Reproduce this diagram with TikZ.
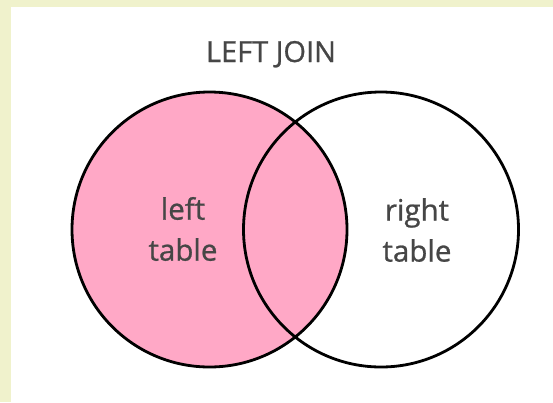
\documentclass[tikz,border=0pt]{standalone}
\usepackage{fontspec}
\setmainfont{Open Sans}
\newfontfamily\joinfont[FakeBold=0.8]{Open Sans}
\definecolor{joinpink}{RGB}{255, 168, 198}
\definecolor{joinframe}{RGB}{240, 242, 204}
\definecolor{joingray}{RGB}{70, 70, 70}

\begin{document}
\begin{tikzpicture}[x=1pt, y=-1pt,
    set/.style={circle, draw=black, line width=2.8pt, minimum size=275pt, inner sep=0pt},
    setlabel/.style={align=center, text=joingray, font=\joinfont\fontsize{29.5}{41}\selectfont}
]

% === Marco ===
\fill[joinframe] (0,0) rectangle (553,402);
\fill[white] (11,7) rectangle (553,402);
\useasboundingbox (0,0) rectangle (553,402);

% === Titulo ===
\node[anchor=base, text=joingray, font=\joinfont\fontsize{29}{34}\selectfont] (title) at (271,62) {LEFT JOIN};

% === Conjuntos ===
\node[set, fill=joinpink] (left) at (209.5,229.5) {};
\node[set] (right) at (381,229.5) {};

\node[setlabel] (ltext) at (183,229) {left\\table};
\node[setlabel] (rtext) at (417,230) {right\\table};

\end{tikzpicture}
\end{document}
